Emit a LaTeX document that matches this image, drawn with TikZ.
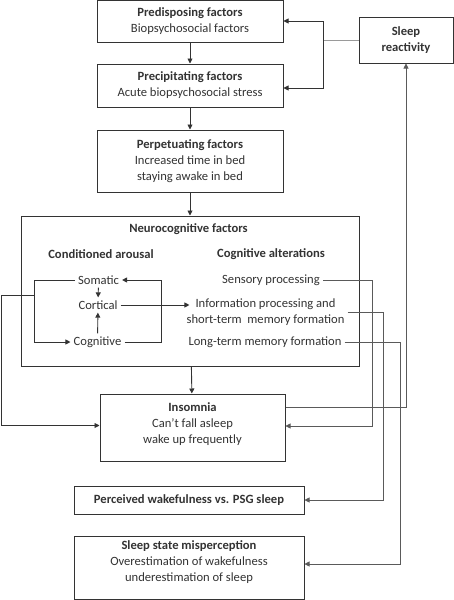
\documentclass[tikz,border=0pt]{standalone}
\usepackage{fontspec}
\setmainfont{Carlito}
\usetikzlibrary{arrows.meta}
\definecolor{ink}{HTML}{333333}
\definecolor{wire}{HTML}{5A5A5A}
\definecolor{pale}{HTML}{9A9A9A}

\begin{document}
\begin{tikzpicture}[x=1pt, y=-1pt,
  every node/.style={font=\fontsize{12.6}{16}\selectfont, text=ink, align=center},
  box/.style={draw=ink, line width=1pt, fill=white, inner sep=0pt},
  item/.style={inner sep=3pt},
]
\useasboundingbox (0,0) rectangle (454,600);

% main chain of boxes
\node[box, minimum width=186pt, minimum height=42pt] (pred) at (190,21)
  {\textbf{Predisposing factors}\\Biopsychosocial factors};
\node[box, minimum width=186pt, minimum height=43pt] (prec) at (190,85.5)
  {\textbf{Precipitating factors}\\Acute biopsychosocial stress};
\node[box, minimum width=186pt, minimum height=62pt] (perp) at (190,161)
  {\textbf{Perpetuating factors}\\Increased time in bed\\staying awake in bed};
\node[box, minimum width=338pt, minimum height=150pt] (neuro) at (190,291) {};
\node[box, minimum width=185pt, minimum height=67pt] (ins) at (192.5,427.5)
  {\textbf{Insomnia}\\Can’t fall asleep\\wake up frequently\\[-7pt]};
\node[box, minimum width=230pt, minimum height=28pt] (perc) at (189,500)
  {\textbf{Perceived wakefulness vs. PSG sleep}};
\node[box, minimum width=230pt, minimum height=63pt] (miss) at (189,567.5)
  {\textbf{Sleep state misperception}\\Overestimation of wakefulness\\underestimation of sleep\\[-4pt]};
\node[box, minimum width=94pt, minimum height=46pt] (react) at (406,40)
  {\textbf{Sleep}\\\textbf{reactivity}};

% inside the neurocognitive box
\node (ntitle) at (188.5,229) {\textbf{Neurocognitive factors}};
\node (arousal) at (101,254) {\textbf{Conditioned arousal}};
\node (alter) at (271,254) {\textbf{Cognitive alterations}};
\node[item] (som) at (98.5,280) {Somatic};
\node[item] (cor) at (98,305) {Cortical};
\node[item] (cog) at (97.5,342) {Cognitive};
\node[item] (sens) at (271,280) {Sensory processing};
\node[item] (info) at (265.5,312.5) {Information processing and\\short-term~ memory formation};
\node[item] (long) at (265,342) {Long-term memory formation};

% bend columns
\coordinate (loopL) at (34,0);
\coordinate (loopR) at (161,0);
\coordinate (farL) at (1,0);
\coordinate (colA) at (372,0);
\coordinate (colB) at (383,0);
\coordinate (colC) at (400,0);
\coordinate (fork) at (323,40);
\coordinate (tap) at (34,295);

\draw[pale, line width=0.8pt] (react.west) -- (fork);

\begin{scope}[-{Triangle[length=5pt, width=5pt]}, line width=0.9pt, ink]
  \draw (pred) -- (prec);
  \draw (prec) -- (perp);
  \draw (perp) -- (neuro);
  \draw (neuro) -- (ins);
  \draw (fork) |- (pred.east);
  \draw (fork) |- ([yshift=-2.5pt]prec.east);
  \draw (som) -- (cor);
  \draw (cog) -- (cor);
  \draw (cor.east) -- ([xshift=6pt]cor.east -| info.west);
  \draw (cog.east) -- (cog.east -| loopR) |- (som.east);
  \draw (som.west) -- (som.west -| loopL) |- (cog.west);
  \draw (tap) -- (tap -| farL) |- ([yshift=2pt]ins.west);
\end{scope}

\begin{scope}[-{Triangle[length=5pt, width=5pt]}, line width=0.7pt, wire]
  \draw ([yshift=20.5pt]ins.east) -| (react.south);
  \draw (sens.east) -- (sens.east -| colA) |- ([yshift=1.5pt]ins.east);
  \draw (info.east) -- (info.east -| colB) |- (perc.east);
  \draw (long.east) -- (long.east -| colC) |- ([yshift=3.5pt]miss.east);
\end{scope}

\end{tikzpicture}
\end{document}
